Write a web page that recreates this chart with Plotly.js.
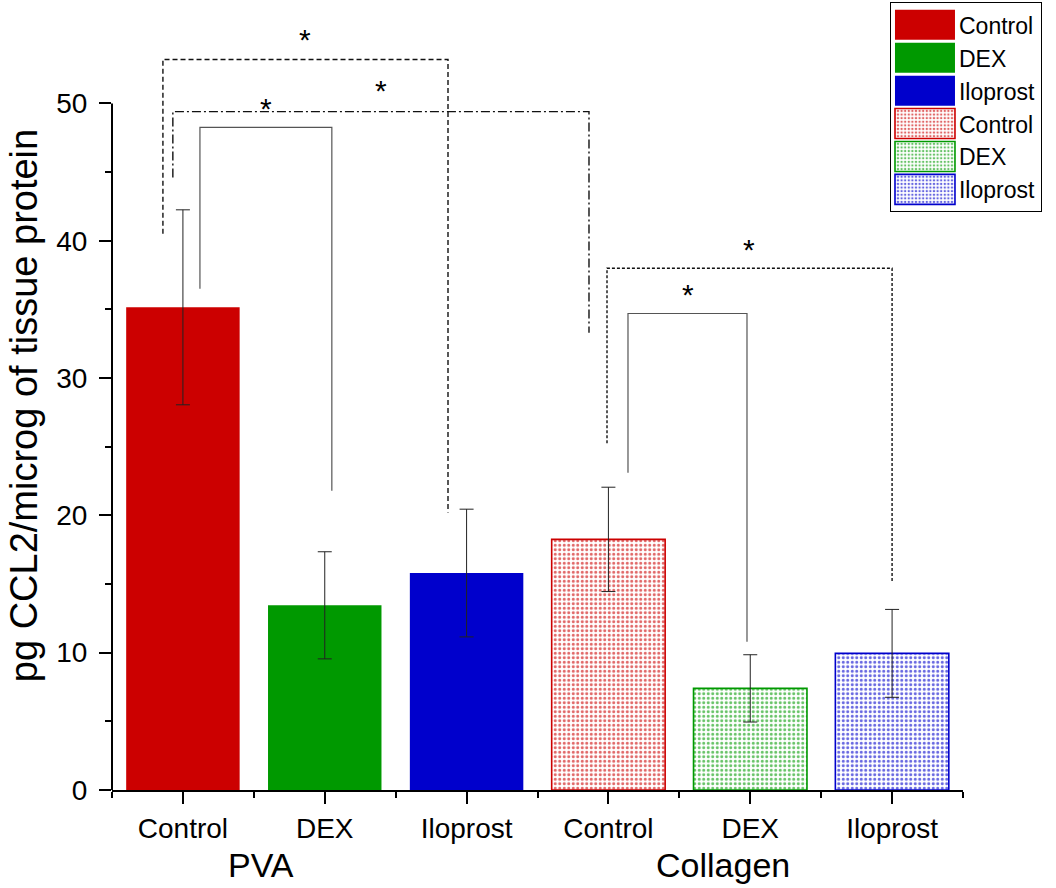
<!DOCTYPE html>
<html>
<head>
<meta charset="utf-8">
<script src="https://cdn.plot.ly/plotly-3.0.1.min.js"></script>
<style>
  html, body { margin: 0; padding: 0; background: #ffffff; }
  #chart { width: 1056px; height: 888px; }
</style>
</head>
<body>
<div id="chart"></div>
<script>
// ---- data ----
const materials  = ['PVA', 'PVA', 'PVA', 'Collagen', 'Collagen', 'Collagen'];
const treatments = ['Control', 'DEX', 'Iloprost', 'Control', 'DEX', 'Iloprost'];
const means      = [35.15, 13.45, 15.8, 18.25, 7.4, 9.95];
const errors     = [7.1, 3.9, 4.65, 3.8, 2.45, 3.2];
const groupLabels = ['PVA', 'Collagen'];
const yTicks     = [0, 10, 20, 30, 40, 50];

// significance brackets: [x-left, y-left-end, x-right, y-right-end, y-top] in data units
const brackets = [
  [-0.141, 40.5, 1.869, 20.2, 53.2],
  [-0.071, 44.6, 2.863, 33.3, 49.4],
  [ 0.12,  36.5, 1.05,  21.8, 48.25],
  [ 2.99,  25.25, 5.0,  15.1, 38.0],
  [ 3.138, 23.1, 3.977, 10.8, 34.7]
];
const bracketStyles = [
  {color: '#111111', width: 1.4, dash: '5px,3px'},
  {color: '#111111', width: 1.4, dash: '9px,3px,2px,3px'},
  {color: '#555555', width: 1.2, dash: 'solid'},
  {color: '#111111', width: 1.4, dash: '3px,2px'},
  {color: '#555555', width: 1.2, dash: 'solid'}
];
// asterisk positions [x, y] in data units
const stars = [[0.86, 55.2], [1.40, 51.5], [0.585, 50.2], [3.99, 39.96], [3.56, 36.7]];
const groupLabelX = [0.55, 3.81];

// ---- styling ----
const FONT = 'Liberation Sans, Arial, sans-serif';
const colors = ['#cc0000', '#009900', '#0000cc', '#cc0000', '#009900', '#0000cc'];
const patterned = materials.map(m => m === 'Collagen');

const traces = treatments.map((t, i) => ({
  type: 'bar',
  x: [i],
  y: [means[i]],
  name: t,
  width: 0.8,
  marker: patterned[i] ? {
    color: '#ffffff',
    line: {color: colors[i], width: 1.6},
    pattern: {shape: '.', fgcolor: colors[i], bgcolor: '#ffffff', size: 4.5, solidity: 0.35, fgopacity: 0.6}
  } : {
    color: colors[i],
    line: {color: colors[i], width: 0}
  },
  error_y: {type: 'data', array: [errors[i]], visible: true, color: '#222222', thickness: 1, width: 7},
  hoverinfo: 'skip'
}));

const shapes = brackets.map((b, i) => ({
  type: 'path',
  xref: 'x', yref: 'y',
  path: `M${b[0]},${b[1]} L${b[0]},${b[4]} L${b[2]},${b[4]} L${b[2]},${b[3]}`,
  line: bracketStyles[i],
  layer: 'above'
}));
// y axis line drawn only from 0 to 50
shapes.push({
  type: 'line', xref: 'paper', yref: 'y', x0: 0, x1: 0, y0: 0, y1: yTicks[yTicks.length - 1],
  line: {color: '#000000', width: 2}
});

const annotations = stars.map(s => ({
  x: s[0], y: s[1], xref: 'x', yref: 'y', text: '*', showarrow: false,
  font: {family: FONT, size: 30, color: '#000000'}, yshift: -8
})).concat(groupLabels.map((g, i) => ({
  x: groupLabelX[i], y: -0.0975, xref: 'x', yref: 'paper', text: g, showarrow: false,
  xanchor: 'center', yanchor: 'middle',
  font: {family: FONT, size: 34, color: '#000000'}
})));

const layout = {
  width: 1056, height: 888, autosize: false,
  margin: {l: 112, r: 93, t: 20.6, b: 98, pad: 0, autoexpand: false},
  paper_bgcolor: '#ffffff', plot_bgcolor: '#ffffff',
  font: {family: FONT, color: '#000000'},
  barmode: 'overlay',
  showlegend: true,
  xaxis: {
    range: [-0.5, 5.5],
    tickmode: 'array', tickvals: treatments.map((_, i) => i), ticktext: treatments,
    showline: true, linecolor: '#000000', linewidth: 2,
    ticks: 'outside', ticklen: 12, tickwidth: 2, tickcolor: '#000000',
    minor: {tick0: -0.5, dtick: 1, ticks: 'outside', ticklen: 6, tickwidth: 2, tickcolor: '#000000'},
    showgrid: false, zeroline: false,
    tickfont: {family: FONT, size: 28, color: '#000000'},
    ticklabelstandoff: 0
  },
  yaxis: {
    range: [0, 56],
    tickmode: 'array', tickvals: yTicks,
    showline: false,
    ticks: 'outside', ticklen: 12, tickwidth: 2, tickcolor: '#000000',
    minor: {tickmode: 'array', tickvals: [5, 15, 25, 35, 45], ticks: 'outside', ticklen: 6, tickwidth: 2, tickcolor: '#000000'},
    showgrid: false, zeroline: false,
    tickfont: {family: FONT, size: 28, color: '#000000'},
    ticklabelstandoff: 6,
    title: {text: 'pg CCL2/microg of tissue protein', font: {family: FONT, size: 38, color: '#000000'}, standoff: 6}
  },
  legend: {
    x: 0.9142, y: 1.0242, xanchor: 'left', yanchor: 'top',
    bgcolor: '#ffffff', bordercolor: '#000000', borderwidth: 1,
    font: {family: FONT, size: 23, color: '#000000'},
    itemwidth: 58, tracegroupgap: 0, traceorder: 'normal'
  },
  shapes: shapes,
  annotations: annotations
};

Plotly.newPlot('chart', traces, layout, {staticPlot: true, displayModeBar: false}).then(gd => {
  // enlarge legend swatches to the wide rectangles used in the reference
  gd.querySelectorAll('.legend .legendpoints path').forEach(p => {
    p.setAttribute('d', 'M30,15H-30V-15H30Z');
  });
});
</script>
</body>
</html>
